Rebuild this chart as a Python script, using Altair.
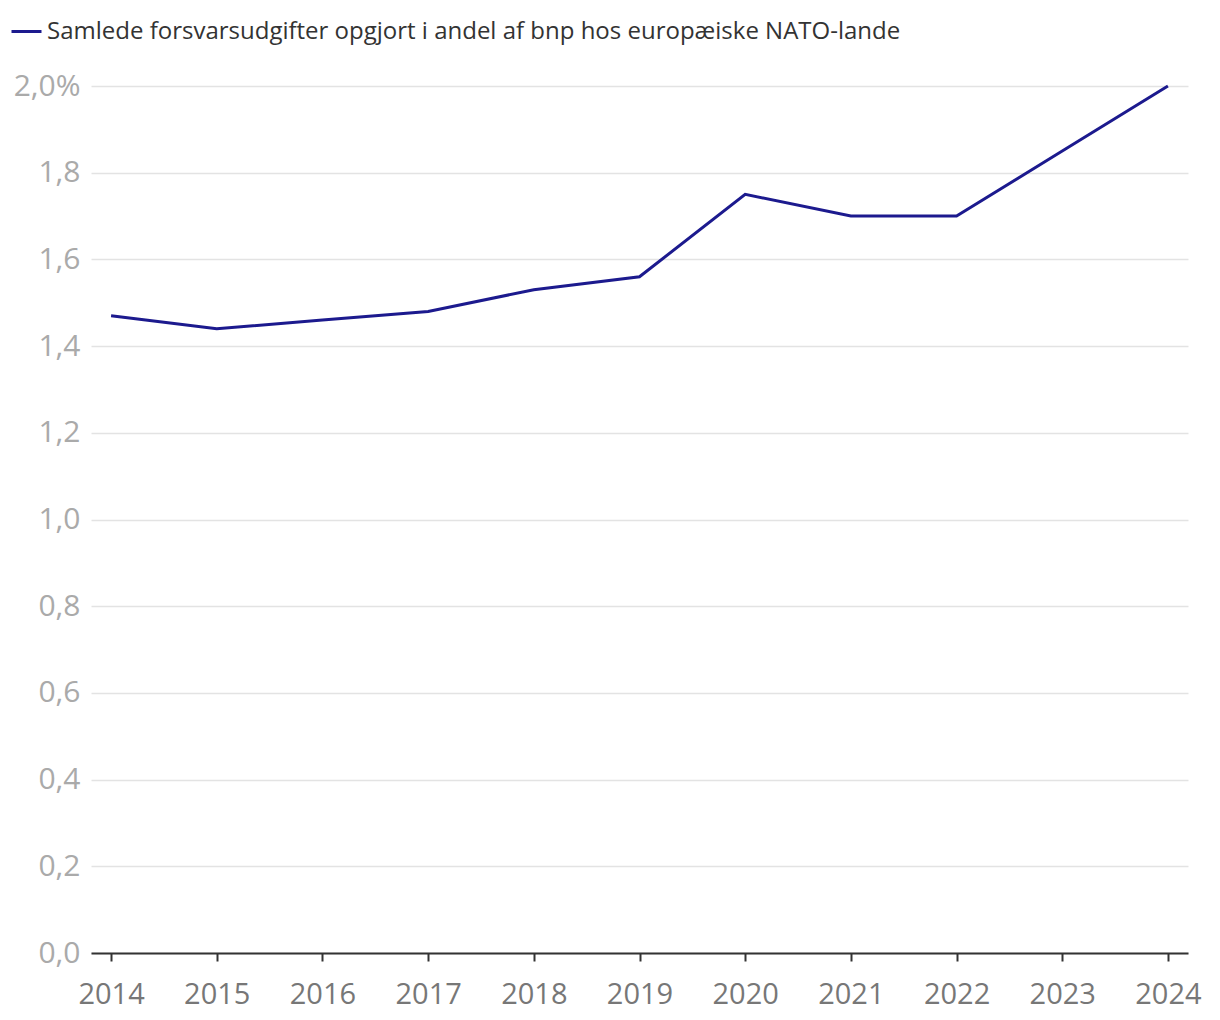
import altair as alt
import pandas as pd

years = ["2014", "2015", "2016", "2017", "2018", "2019", "2020", "2021", "2022", "2023", "2024"]
values = [1.47, 1.44, 1.46, 1.48, 1.53, 1.56, 1.75, 1.70, 1.70, 1.85, 2.00]
series_name = "Samlede forsvarsudgifter opgjort i andel af bnp hos europæiske NATO-lande"
y_ticks = [0.0, 0.2, 0.4, 0.6, 0.8, 1.0, 1.2, 1.4, 1.6, 1.8, 2.0]

df = pd.DataFrame({"year": years, "value": values, "series": [series_name] * len(years)})

FONT = "Open Sans"

chart = alt.Chart(df).mark_line(strokeWidth=3, strokeJoin="miter").encode(
    x=alt.X("year:O", title=None,
            scale=alt.Scale(type="point", padding=0.19),
            axis=alt.Axis(labelAngle=0, domain=True, domainColor="#333333", domainWidth=2,
                          ticks=True, tickColor="#333333", tickWidth=2, tickSize=8,
                          labelColor="#777777", labelFontSize=29, labelFont=FONT,
                          labelPadding=19, grid=False)),
    y=alt.Y("value:Q", title=None,
            scale=alt.Scale(domain=[0, 2.0], nice=False, zero=True),
            axis=alt.Axis(values=y_ticks, domain=False, ticks=False,
                          labelExpr="datum.value == 2 ? '2,0%' : replace(format(datum.value, '.1f'), '.', ',')",
                          labelColor="#aaaaaa", labelFontSize=30, labelFont=FONT,
                          labelPadding=11, grid=True, gridColor="#e3e3e3", gridWidth=1.5)),
    color=alt.Color("series:N", title=None,
                    scale=alt.Scale(range=["#1c1a8e"]),
                    legend=alt.Legend(orient="none", legendX=-81, legendY=-71,
                                      symbolType="stroke", symbolStrokeWidth=3, symbolSize=900,
                                      labelFontSize=24, labelColor="#333333", labelFont=FONT,
                                      labelLimit=1200, padding=0)),
).properties(
    width=1097, height=867,
    autosize=alt.AutoSizeParams(type="none"),
    padding={"left": 83, "top": 78, "right": 24, "bottom": 60},
).configure(font=FONT).configure_view(strokeWidth=0, stroke="transparent")

chart.save("out.html", embed_options={"renderer": "svg", "actions": False})
